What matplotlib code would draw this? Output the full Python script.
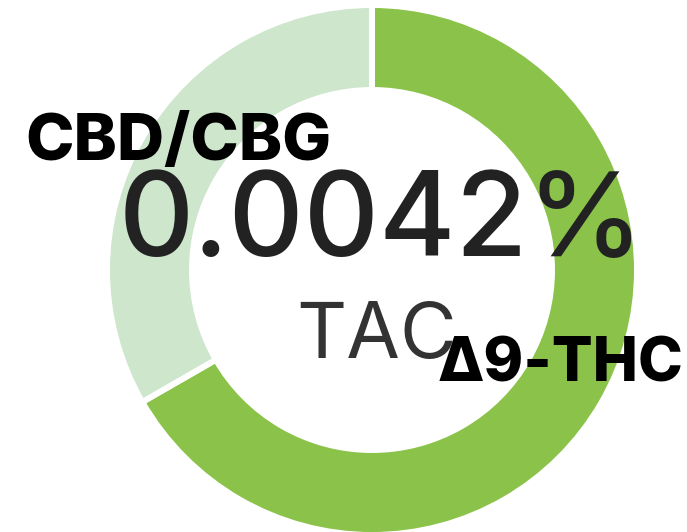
import matplotlib
matplotlib.use("Agg")
import matplotlib.pyplot as plt

# cannabinoid share of the ring
labels = ["Δ9-THC", "CBD/CBG"]
values = [66.7, 33.3]
colors = ["#8bc34a", "#cde6cc"]
total_text = "0.0042%"
total_label = "TAC"

W, H = 687, 532
fig = plt.figure(figsize=(W / 100, H / 100), dpi=100)
ax = fig.add_axes([0, 0, 1, 1])

ax.pie(values, colors=colors, startangle=90, counterclock=False,
       radius=265, center=(372, 262),
       wedgeprops=dict(width=85, edgecolor="white", linewidth=4.3))

ax.set_xlim(0, W)
ax.set_ylim(0, H)
ax.set_aspect("equal")
ax.axis("off")

font = ["Inter", "DejaVu Sans"]
ax.text(25, H - 160, labels[1], fontsize=47, fontweight="heavy",
        color="black", family=font, ha="left", va="baseline")
ax.text(119, H - 256, total_text, fontsize=84, fontweight="medium",
        color="#222222", family=font, ha="left", va="baseline")
ax.text(296, H - 358, total_label, fontsize=56, color="#333333",
        family=font, ha="left", va="baseline")
ax.text(438, H - 381, labels[0], fontsize=43.5, fontweight="heavy",
        color="black", family=font, ha="left", va="baseline")

fig.savefig("out.png", dpi=100)
